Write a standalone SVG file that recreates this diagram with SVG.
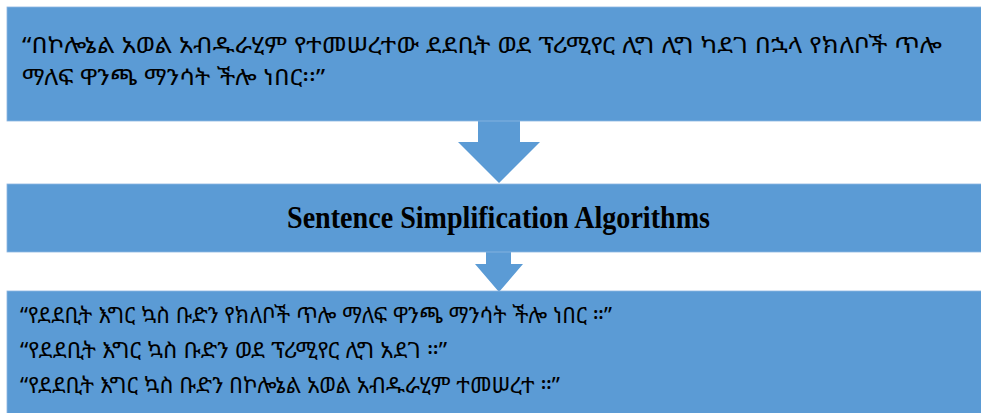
<svg xmlns="http://www.w3.org/2000/svg" width="981" height="413" viewBox="0 0 981 413">
<style>
.box{fill:#5B9BD5;stroke:#8DB6E0;stroke-width:0.8}
.arrow{fill:#5B9BD5}
.am{font-family:"Noto Sans Ethiopic","Abyssinica SIL","Noto Serif Ethiopic","Nyala","Noto Sans","DejaVu Sans",sans-serif;font-size:22px;fill:#000}
.en{font-family:"Liberation Serif","Times New Roman",serif;font-weight:bold;font-size:31px;fill:#000}
</style>
<rect width="981" height="413" fill="#ffffff"/>
<g id="connectors">
<polygon class="arrow" points="478,121 520,121 520,142 540,142 499,183 458,142 478,142"/>
<polygon class="arrow" points="486,252 511,252 511,264 523,264 499,292 475,264 486,264"/>
</g>
<g id="node-source">
<rect class="box" x="7" y="7" width="980" height="114"/>
<text class="am" x="22" y="53" textLength="920" lengthAdjust="spacingAndGlyphs">“በኮሎኔል አወል አብዱራሂም የተመሠረተው ደደቢት ወደ ፕሪሚየር ሊግ ሊግ ካደገ በኋላ የክለቦች ጥሎ</text>
<text class="am" x="22" y="85" textLength="303" lengthAdjust="spacingAndGlyphs">ማለፍ ዋንጫ ማንሳት ችሎ ነበር፡፡”</text>
</g>
<g id="node-algorithm">
<rect class="box" x="7" y="184" width="980" height="68"/>
<text class="en" x="287" y="228" textLength="423" lengthAdjust="spacingAndGlyphs">Sentence Simplification Algorithms</text>
</g>
<g id="node-output">
<rect class="box" x="7" y="291" width="980" height="130"/>
<text class="am" x="20" y="323" textLength="592" lengthAdjust="spacingAndGlyphs">“የደደቢት እግር ኳስ ቡድን የክለቦች ጥሎ ማለፍ ዋንጫ ማንሳት ችሎ ነበር ።”</text>
<text class="am" x="20" y="358" textLength="427" lengthAdjust="spacingAndGlyphs">“የደደቢት እግር ኳስ ቡድን ወደ ፕሪሚየር ሊግ አደገ ።”</text>
<text class="am" x="20" y="393" textLength="540" lengthAdjust="spacingAndGlyphs">“የደደቢት እግር ኳስ ቡድን በኮሎኔል አወል አብዱራሂም ተመሠረተ ።”</text>
</g>
</svg>
